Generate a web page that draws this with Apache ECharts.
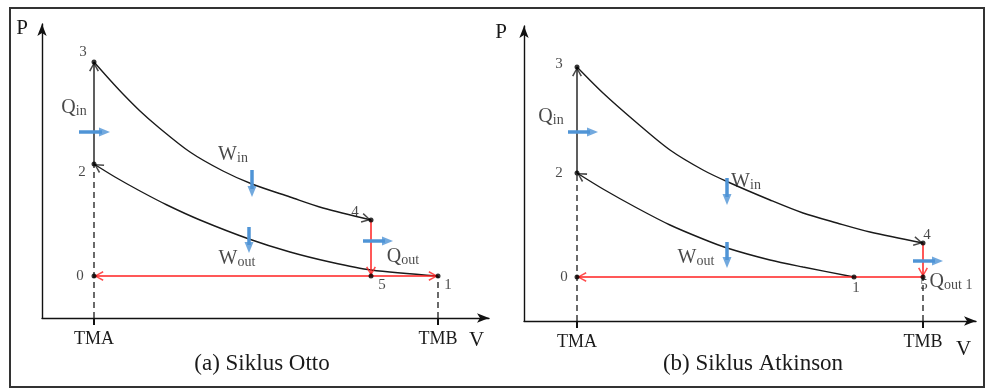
<!DOCTYPE html>
<html>
<head>
<meta charset="utf-8">
<title>Siklus Otto dan Atkinson</title>
<script src="https://cdn.jsdelivr.net/npm/echarts@6/dist/echarts.min.js"></script>
<style>
  html, body { margin: 0; padding: 0; background: #fff; }
  #chart { width: 987px; height: 390px; }
</style>
</head>
<body>
<div id="chart"></div>
<script>
// satuan V dan P sembarang (diagram skematik)
const tickNames = ['TMA', 'TMB'];

// (a) Siklus Otto
const ottoTicks = [5.2, 39.6];
const ottoExpV = [5.2, 6.8, 8.1, 9.8, 11.5, 14.8, 18.1, 21.0, 24.8, 28.1, 32.9];
const ottoExpP = [25.6, 23.8, 22.4, 20.7, 19.2, 16.6, 14.7, 13.4, 12.1, 11.0, 9.8];
const ottoCompV = [5.2, 7.3, 9.8, 12.5, 15.8, 20.7, 24.8, 28.8, 32.9, 39.6];
const ottoCompP = [15.4, 14.1, 12.7, 11.3, 9.8, 7.9, 6.6, 5.6, 4.8, 4.2];
const ottoPtNames = ['0', '1', '2', '3', '4', '5'];
const ottoPtV = [5.2, 39.6, 5.2, 5.2, 32.9, 32.9];
const ottoPtP = [4.2, 4.2, 15.4, 25.6, 9.8, 4.2];

// (b) Siklus Atkinson
const atkTicks = [5.3, 39.9];
const atkExpV = [5.3, 7.9, 11.3, 14.6, 17.9, 20.4, 24.6, 27.9, 31.3, 34.6, 39.9];
const atkExpP = [25.4, 22.8, 19.8, 17.1, 15.1, 13.9, 12.1, 10.8, 9.8, 8.9, 7.8];
const atkCompV = [5.3, 7.9, 11.3, 14.6, 17.9, 20.3, 24.6, 27.9, 33.0];
const atkCompP = [14.8, 13.2, 11.3, 9.6, 8.2, 7.3, 6.1, 5.4, 4.4];
const atkPtNames = ['0', '1', '2', '3', '4', '5'];
const atkPtV = [5.3, 33.0, 5.3, 5.3, 39.9, 39.9];
const atkPtP = [4.4, 4.4, 14.8, 25.4, 7.8, 4.4];

// panah biru (Q, W) dan teksnya
const ottoBlue = [[[3.7, 18.6], [6.8, 18.6]], [[21.0, 14.8], [21.0, 12.1]], [[20.7, 9.1], [20.7, 6.5]], [[32.1, 7.7], [35.1, 7.7]]];
const ottoNotes = [['{q|Q}{s|in}', 3.2, 21.0], ['{q|W}{s|in}', 19.1, 16.3], ['{q|W}{s|out}', 19.5, 5.9], ['{q|Q}{s|out}', 36.1, 6.1]];
const atkBlue = [[[4.4, 18.9], [7.4, 18.9]], [[20.3, 14.3], [20.3, 11.6]], [[20.3, 7.9], [20.3, 5.3]], [[38.9, 6.0], [41.9, 6.0]]];
const atkNotes = [['{q|Q}{s|in}', 2.7, 20.4], ['{q|W}{s|in}', 22.2, 13.9], ['{q|W}{s|out}', 17.2, 6.3], ['{q|Q}{s|out 1}', 42.7, 3.9]];

const FONT = 'Liberation Serif, Times New Roman, serif';
const BLACK = '#1a1a1a';
const RED = '#ff2020';
const BLUE = '#4f94d6';
// ujung panah di tengah simbol (titik kosong di atas)
const CHEV = 'path://M5,-9.6L5,-9.6M5,0L10,9L8.6,9.7L5,2.8L1.4,9.7L0,9Z';
const TRI = 'path://M5,-10L5,-10M5,0L10,10L0,10Z';

const ottoOffsets = { '0': [-14, 0], '1': [10, 9], '2': [-12, 8], '3': [-11, -10], '4': [-16, -8], '5': [11, 9] };
const atkOffsets = { '0': [-13, 0], '1': [2, 11], '2': [-18, 0], '3': [-18, -3], '4': [4, -8], '5': [1, 8] };

function zip(a, b) { return a.map((v, i) => [v, b[i]]); }

// kedua sumbu 10 px per satuan, jadi sudut bisa dihitung dari data
function heading(from, to) {
  return Math.atan2(-(to[0] - from[0]), to[1] - from[1]) * 180 / Math.PI;
}

// batang panah biru berhenti sebelum ujung
function shaftEnd(from, to) {
  const dx = to[0] - from[0], dy = to[1] - from[1];
  const len = Math.sqrt(dx * dx + dy * dy);
  return [to[0] - dx / len * 0.8, to[1] - dy / len * 0.8];
}

function seg(ax, coords, color, dashed, width) {
  return Object.assign({ type: 'line', data: coords, symbol: 'none', z: 3,
    lineStyle: { color: color, width: width || 1.4, type: dashed ? [6, 4] : 'solid' } }, ax);
}

function panel(i, o) {
  const pt = {};
  o.names.forEach((n, k) => { pt[n] = [o.V[k], o.P[k]]; });
  const exp = zip(o.expV, o.expP);
  const comp = zip(o.compV, o.compP);
  const n = exp.length;
  const ax = { xAxisIndex: i, yAxisIndex: i };

  const redEnd = o.both ? pt['1'] : pt['5'];
  const list = [
    Object.assign({ type: 'line', data: exp, smooth: 0.3, symbol: 'none',
      lineStyle: { color: BLACK, width: 1.4 }, z: 3 }, ax),
    Object.assign({ type: 'line', data: comp, smooth: 0.3, symbol: 'none',
      lineStyle: { color: BLACK, width: 1.4 }, z: 3 }, ax),
    seg(ax, [pt['2'], pt['3']], BLACK),
    seg(ax, [[o.ticks[0], 0], pt['2']], BLACK, true, 1.3),
    seg(ax, [[o.ticks[1], 0], [o.ticks[1], o.P[0]]], BLACK, true, 1.3),
    seg(ax, [pt['0'], redEnd], RED, false, 1.5),
    seg(ax, [pt['4'], pt['5']], RED, false, 1.5)
  ];
  o.blue.forEach(c => list.push(seg(ax, [c[0], shaftEnd(c[0], c[1])], BLUE, false, 3.5)));

  // [dari, ke, warna]
  const heads = [
    [pt['2'], pt['3'], BLACK],
    [exp[n - 2], exp[n - 1], BLACK],
    [comp[1], comp[0], BLACK],
    [pt['4'], pt['5'], RED],
    [redEnd, pt['0'], RED]
  ];
  if (o.both) heads.push([pt['0'], pt['1'], RED]);

  list.push(
    Object.assign({ type: 'scatter', symbol: CHEV, symbolSize: [10, 19], z: 4,
      data: heads.map(h => ({ value: h[1], symbolRotate: heading(h[0], h[1]), itemStyle: { color: h[2] } })) }, ax),
    Object.assign({ type: 'scatter', symbol: TRI, symbolSize: [9, 22], itemStyle: { color: BLUE }, z: 5,
      data: o.blue.map(c => ({ value: c[1], symbolRotate: heading(c[0], c[1]) })) }, ax),
    Object.assign({ type: 'scatter', symbolSize: 5, itemStyle: { color: '#000' }, z: 6,
      data: o.names.map((nm, k) => ({
        name: nm, value: [o.V[k], o.P[k]],
        label: { show: true, position: 'inside', offset: o.offsets[nm], color: BLACK,
          fontFamily: FONT, fontSize: 15, formatter: p => p.name }
      })) }, ax),
    Object.assign({ type: 'scatter', symbolSize: 1, itemStyle: { color: 'transparent' }, z: 7,
      data: o.notes.map(t => ({ name: t[0], value: [t[1], t[2]] })),
      label: { show: true, position: 'inside', formatter: p => p.name,
        rich: {
          q: { fontFamily: FONT, fontSize: 20, color: BLACK, verticalAlign: 'bottom' },
          s: { fontFamily: FONT, fontSize: 14, color: BLACK, verticalAlign: 'bottom' }
        } } }, ax)
  );
  return list;
}

function xAxis(i, max, ticks, nameGap, namePad) {
  return {
    type: 'value', gridIndex: i, min: 0, max: max,
    splitLine: { show: false },
    axisLine: { onZero: false, symbol: ['none', 'arrow'], symbolSize: [7, 12], lineStyle: { color: '#111', width: 1.4 } },
    axisTick: { customValues: ticks, length: 7, lineStyle: { color: '#111', width: 2 } },
    axisLabel: { customValues: ticks, margin: 12, color: BLACK, fontFamily: FONT, fontSize: 18,
      formatter: v => tickNames[ticks.indexOf(v)] },
    name: 'V', nameLocation: 'end', nameGap: nameGap,
    nameTextStyle: { fontFamily: FONT, fontSize: 21, color: BLACK, align: 'left', verticalAlign: 'top', padding: [namePad, 0, 0, 0] }
  };
}

function yAxis(i, max, nameGap, namePad) {
  return {
    type: 'value', gridIndex: i, min: 0, max: max,
    splitLine: { show: false }, axisTick: { show: false }, axisLabel: { show: false },
    axisLine: { onZero: false, symbol: ['none', 'arrow'], symbolSize: [7, 12], lineStyle: { color: '#111', width: 1.4 } },
    name: 'P', nameLocation: 'end', nameGap: nameGap,
    nameTextStyle: { fontFamily: FONT, fontSize: 21, color: BLACK, align: 'right', verticalAlign: 'middle', padding: [0, namePad, 0, 0] }
  };
}

const chart = echarts.init(document.getElementById('chart'));
chart.setOption({
  animation: false,
  backgroundColor: '#fff',
  grid: [
    { left: 42, top: 24, width: 447, height: 294 },
    { left: 524, top: 26, width: 452, height: 295 }
  ],
  xAxis: [xAxis(0, 44.7, ottoTicks, -20, 12), xAxis(1, 45.2, atkTicks, -20, 18)],
  yAxis: [yAxis(0, 29.4, -4, 14), yAxis(1, 29.5, -6, 17)],
  graphic: [
    { type: 'rect', shape: { x: 10, y: 8, width: 974, height: 379 }, style: { fill: 'none', stroke: '#333', lineWidth: 2 }, silent: true },
    { type: 'text', x: 262, y: 364, style: { text: '(a) Siklus Otto', font: '23px ' + FONT, fill: BLACK, align: 'center', verticalAlign: 'middle' } },
    { type: 'text', x: 753, y: 364, style: { text: '(b) Siklus Atkinson', font: '23px ' + FONT, fill: BLACK, align: 'center', verticalAlign: 'middle' } }
  ],
  series: [].concat(
    panel(0, { names: ottoPtNames, V: ottoPtV, P: ottoPtP, expV: ottoExpV, expP: ottoExpP,
      compV: ottoCompV, compP: ottoCompP, ticks: ottoTicks, blue: ottoBlue, notes: ottoNotes,
      offsets: ottoOffsets, both: true }),
    panel(1, { names: atkPtNames, V: atkPtV, P: atkPtP, expV: atkExpV, expP: atkExpP,
      compV: atkCompV, compP: atkCompP, ticks: atkTicks, blue: atkBlue, notes: atkNotes,
      offsets: atkOffsets, both: false })
  )
});
</script>
</body>
</html>
